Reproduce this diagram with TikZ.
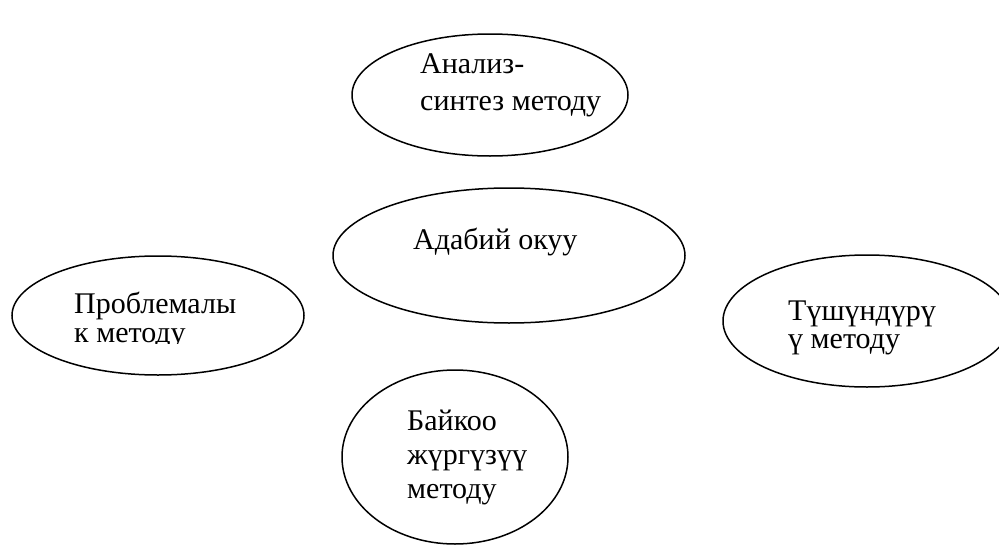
\documentclass[tikz,border=0pt]{standalone}
\usepackage{fontspec}
\setmainfont{Liberation Serif}
\usetikzlibrary{shapes.geometric}
\tikzset{
  oval/.style={ellipse, draw=black, line width=1.5pt, inner sep=0pt},
  txt/.style={anchor=base west, inner sep=0pt, font=\fontsize{30}{36}\selectfont}
}
\begin{document}
\begin{tikzpicture}[x=1pt,y=-1pt]
\useasboundingbox (0,0) rectangle (999,546);
\node[oval, minimum width=276pt, minimum height=122pt] (top) at (490,95) {};
\node[oval, minimum width=352pt, minimum height=135pt] (mid) at (509,255.5) {};
\node[oval, minimum width=292pt, minimum height=119pt] (left) at (158,315.5) {};
\node[oval, minimum width=288pt, minimum height=132pt] (right) at (867,321) {};
\node[oval, minimum width=226pt, minimum height=174pt] (bot) at (455,457) {};
% texts
\node[txt] (t1) at (420,73) {Анализ-};
\node[txt] (t2) at (420,110) {синтез методу};
\node[txt] (m1) at (413,249) {Адабий окуу};
\node[txt] (l1) at (74,313) {Проблемалы};
\begin{scope}
\clip (60,318) rectangle (300,343);
\node[txt] (l2) at (74,342) {к методу};
\end{scope}
\node[txt] (r1) at (788,320) {Түшүндүрү};
\node[txt] (r2) at (788,348) {ү методу};
\node[txt] (b1) at (407,430) {Байкоо};
\node[txt] (b2) at (407,464) {жүргүзүү};
\node[txt] (b3) at (407,498) {методу};
\end{tikzpicture}
\end{document}
